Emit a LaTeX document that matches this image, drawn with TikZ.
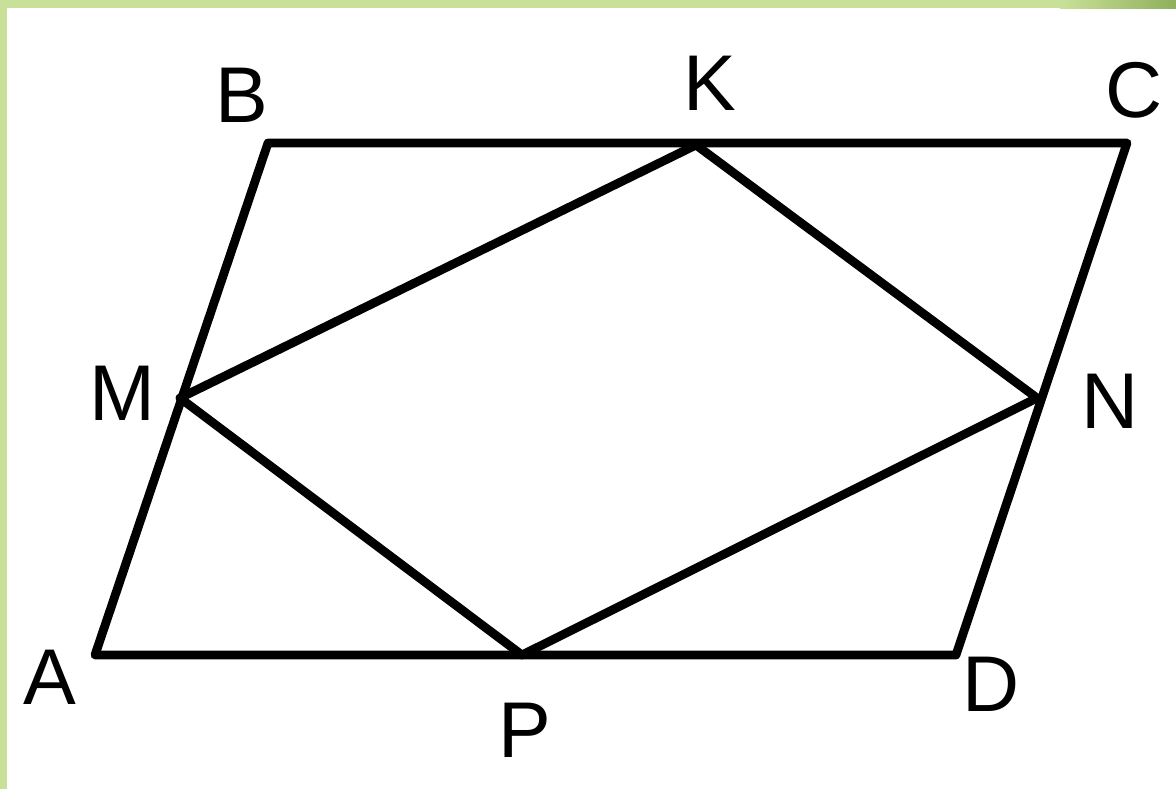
\documentclass[tikz,border=0pt]{standalone}
\usepackage{fontspec}
\setmainfont{Liberation Sans}
\definecolor{bandgreen}{RGB}{201,224,152}
\definecolor{banddark}{RGB}{143,176,92}
\begin{document}
\begin{tikzpicture}[x=0.02cm,y=-0.02cm,
  edge/.style={line width=5pt,line join=round,line cap=round},
  lbl/.style={inner sep=0pt,font=\fontsize{45}{54}\selectfont}]
\useasboundingbox (0,0) rectangle (1176,789);
\fill[white] (0,0) rectangle (1176,789);
\fill[bandgreen] (0,0) rectangle (7,789);
\fill[bandgreen] (0,0) rectangle (1061,8);
\shade[left color=bandgreen,right color=banddark] (1060,0) rectangle (1176,8);
\coordinate (A) at (95,655);
\coordinate (B) at (268,143);
\coordinate (C) at (1127,143);
\coordinate (D) at (956,655);
\coordinate (K) at (696,145);
\coordinate (M) at (180,398);
\coordinate (N) at (1037,398);
\coordinate (P) at (522,655);
\draw[edge] (A) -- (B) -- (C) -- (D) -- cycle;
\draw[edge] (M) -- (K) -- (N) -- (P) -- cycle;
\node[lbl] (lA) at (50,677) {A};
\node[lbl] (lB) at (242,95) {B};
\node[lbl] (lC) at (1134,90) {C};
\node[lbl] (lD) at (991,684) {D};
\node[lbl] (lK) at (710,83) {K};
\node[lbl] (lM) at (122,393) {M};
\node[lbl] (lN) at (1110,401) {N};
\node[lbl] (lP) at (525,730) {P};
\end{tikzpicture}
\end{document}
